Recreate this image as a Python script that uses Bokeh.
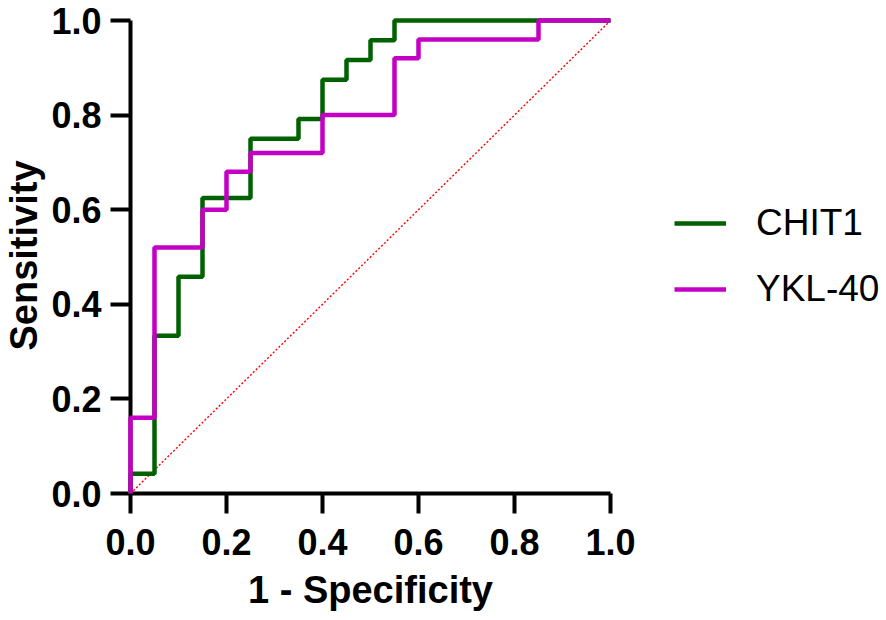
from bokeh.plotting import figure
from bokeh.models import Range1d, FixedTicker, Legend, LegendItem, Title
from bokeh.embed import file_html
from bokeh.resources import INLINE

# ROC step curves (1 - specificity, sensitivity)
chit1_fpr = [0.0, 0.0, 0.05, 0.05, 0.10, 0.10, 0.15, 0.15, 0.25, 0.25, 0.35, 0.35,
             0.40, 0.40, 0.45, 0.45, 0.50, 0.50, 0.55, 0.55, 1.0]
chit1_tpr = [0.0, 0.0417, 0.0417, 0.3333, 0.3333, 0.4583, 0.4583, 0.625, 0.625, 0.75, 0.75,
             0.7917, 0.7917, 0.875, 0.875, 0.9167, 0.9167, 0.9583, 0.9583, 1.0, 1.0]

ykl40_fpr = [0.0, 0.0, 0.05, 0.05, 0.15, 0.15, 0.20, 0.20, 0.25, 0.25, 0.40, 0.40,
             0.55, 0.55, 0.60, 0.60, 0.85, 0.85, 1.0]
ykl40_tpr = [0.0, 0.16, 0.16, 0.52, 0.52, 0.60, 0.60, 0.68, 0.68, 0.72, 0.72, 0.80,
             0.80, 0.92, 0.92, 0.96, 0.96, 1.0, 1.0]

ref_x = [0.0, 1.0]
ref_y = [0.0, 1.0]

tick_values = [0.0, 0.2, 0.4, 0.6, 0.8, 1.0]
tick_labels = ["0.0", "0.2", "0.4", "0.6", "0.8", "1.0"]

series_names = ["CHIT1", "YKL-40"]
series_colors = ["#006100", "#C400C4"]
x_title = "1 - Specificity"
y_title = "Sensitivity"

FONT = "Liberation Sans"

W, H = 886, 620
LEFT, TOP, BOTTOM = 130, 17, 127
X_PX = 480.0                       # pixels for x from 0 to 1
FRAME_W = W - LEFT
FRAME_H = H - TOP - BOTTOM
Y_PX = FRAME_H - 3.0               # pixels for y from 0 to 1

p = figure(width=W, height=H, output_backend="svg", toolbar_location=None,
           x_range=Range1d(0.0, FRAME_W / X_PX), y_range=Range1d(0.0, FRAME_H / Y_PX),
           min_border_left=LEFT, min_border_right=0, min_border_top=TOP,
           min_border_bottom=BOTTOM)
p.outline_line_color = None
p.xgrid.visible = False
p.ygrid.visible = False
p.background_fill_color = "white"
p.border_fill_color = "white"

p.line(ref_x, ref_y, line_color="red", line_width=1.4, line_dash="2 2")
r1 = p.line(chit1_fpr, chit1_tpr, line_color=series_colors[0], line_width=4.5, level="overlay")
r2 = p.line(ykl40_fpr, ykl40_tpr, line_color=series_colors[1], line_width=4.5, level="overlay")

for ax in (p.xaxis[0], p.yaxis[0]):
    ax.ticker = FixedTicker(ticks=tick_values)
    ax.major_label_overrides = {v: s for v, s in zip(tick_values, tick_labels)}
    ax.bounds = (0.0, 1.0)
    ax.axis_line_width = 4
    ax.axis_line_color = "black"
    ax.major_tick_line_width = 4
    ax.major_tick_line_color = "black"
    ax.major_tick_out = 20
    ax.major_tick_in = 0
    ax.minor_tick_out = 0
    ax.minor_tick_in = 0
    ax.major_label_text_font = FONT
    ax.major_label_text_font_style = "bold"
    ax.major_label_text_font_size = "36px"
    ax.major_label_text_color = "black"
    ax.axis_label_text_font = FONT
    ax.axis_label_text_font_style = "bold"
    ax.axis_label_text_font_size = "38px"
    ax.axis_label_text_color = "black"

p.xaxis.major_label_standoff = 15
p.yaxis.major_label_standoff = 9
p.yaxis.axis_label = y_title
p.yaxis.axis_label_standoff = 3

# x title centred under the 0..1 part of the axis
xt = Title(text=x_title, align="left", offset=X_PX / 2 - 122.5,
           text_font=FONT, text_font_style="bold", text_font_size="38px",
           text_color="black", standoff=19)
p.add_layout(xt, "below")

legend = Legend(items=[LegendItem(label=series_names[0], renderers=[r1]),
                       LegendItem(label=series_names[1], renderers=[r2])],
                location=(544, 182))
legend.border_line_color = None
legend.background_fill_alpha = 0
legend.padding = 0
legend.margin = 0
legend.spacing = 22
legend.glyph_width = 52
legend.glyph_height = 44
legend.label_height = 44
legend.label_standoff = 30
legend.label_text_font = FONT
legend.label_text_font_size = "37px"
legend.label_text_color = "black"
p.add_layout(legend, "center")

open("out.html", "w").write(file_html(p, INLINE))
